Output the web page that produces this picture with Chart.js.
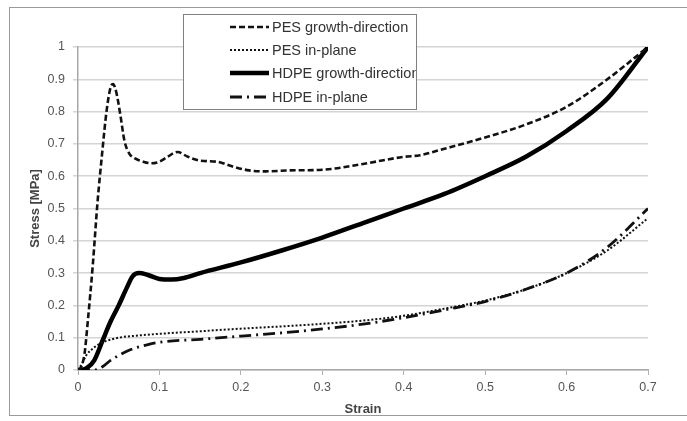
<!DOCTYPE html>
<html>
<head>
<meta charset="utf-8">
<script src="https://cdn.jsdelivr.net/npm/chart.js@4.4.1/dist/chart.umd.min.js"></script>
<style>
  html, body { margin: 0; padding: 0; background: #fff; }
  #wrap { position: relative; width: 687px; height: 421px; }
  #frame { position: absolute; left: 9px; top: 7px; width: 690px; height: 407px;
           border-left: 1px solid #9a9a9a; border-top: 1px solid #9a9a9a; border-bottom: 1px solid #9a9a9a; }
  canvas { position: absolute; left: 0; top: 0; }
</style>
</head>
<body>
<div id="wrap">
  <div id="frame"></div>
  <canvas id="stressChart" width="687" height="421"></canvas>
</div>
<script>
// Strain / stress readings for each curve
const pesGrowthX = [0, 0.004, 0.008, 0.012, 0.018, 0.024, 0.03, 0.035, 0.04, 0.043, 0.047, 0.052, 0.057, 0.063, 0.07, 0.08, 0.09, 0.1, 0.11, 0.122, 0.135, 0.15, 0.17, 0.19, 0.21, 0.23, 0.26, 0.3, 0.35, 0.4, 0.42, 0.45, 0.5, 0.55, 0.6, 0.65, 0.7];
const pesGrowthY = [0, 0.01, 0.05, 0.15, 0.32, 0.52, 0.68, 0.8, 0.875, 0.885, 0.86, 0.79, 0.71, 0.67, 0.655, 0.645, 0.64, 0.645, 0.66, 0.675, 0.66, 0.648, 0.645, 0.63, 0.618, 0.615, 0.618, 0.62, 0.638, 0.66, 0.665, 0.685, 0.72, 0.76, 0.815, 0.9, 1.0];

const pesPlaneX = [0, 0.005, 0.01, 0.02, 0.03, 0.05, 0.075, 0.1, 0.15, 0.2, 0.25, 0.3, 0.35, 0.4, 0.45, 0.5, 0.55, 0.6, 0.65, 0.7];
const pesPlaneY = [0, 0.02, 0.045, 0.07, 0.085, 0.1, 0.107, 0.112, 0.12, 0.128, 0.135, 0.143, 0.153, 0.168, 0.19, 0.215, 0.25, 0.3, 0.37, 0.47];

const hdpeGrowthX = [0, 0.01, 0.02, 0.03, 0.04, 0.05, 0.06, 0.067, 0.075, 0.085, 0.1, 0.115, 0.13, 0.15, 0.2, 0.25, 0.3, 0.35, 0.4, 0.45, 0.5, 0.55, 0.6, 0.65, 0.7];
const hdpeGrowthY = [0, 0.005, 0.03, 0.09, 0.15, 0.2, 0.255, 0.29, 0.3, 0.295, 0.282, 0.28, 0.285, 0.3, 0.333, 0.37, 0.41, 0.455, 0.5, 0.545, 0.6, 0.66, 0.74, 0.84, 1.0];

const hdpePlaneX = [0, 0.02, 0.03, 0.04, 0.05, 0.06, 0.07, 0.085, 0.1, 0.15, 0.2, 0.25, 0.3, 0.35, 0.4, 0.45, 0.5, 0.55, 0.6, 0.65, 0.7];
const hdpePlaneY = [0, 0, 0.01, 0.03, 0.045, 0.058, 0.068, 0.078, 0.086, 0.095, 0.105, 0.115, 0.127, 0.142, 0.162, 0.186, 0.212, 0.25, 0.3, 0.38, 0.5];

const seriesNames = ['PES growth-direction', 'PES in-plane', 'HDPE growth-direction', 'HDPE in-plane'];

const xTicks = [0, 0.1, 0.2, 0.3, 0.4, 0.5, 0.6, 0.7];
const xTickLabels = ['0', '0.1', '0.2', '0.3', '0.4', '0.5', '0.6', '0.7'];
const yTicks = [0, 0.1, 0.2, 0.3, 0.4, 0.5, 0.6, 0.7, 0.8, 0.9, 1];
const yTickLabels = ['0', '0.1', '0.2', '0.3', '0.4', '0.5', '0.6', '0.7', '0.8', '0.9', '1'];

function toPoints(xs, ys) {
    return xs.map((x, i) => ({ x: x, y: ys[i] }));
}

// Legend drawn as a boxed list on top of the plot
const boxLegend = {
    id: 'boxLegend',
    afterDraw(chart) {
        const ctx = chart.ctx;
        const left = 183, top = 14, width = 233, height = 95;
        ctx.save();
        ctx.fillStyle = '#ffffff';
        ctx.fillRect(left, top, width, height);
        ctx.strokeStyle = '#808080';
        ctx.lineWidth = 1;
        ctx.strokeRect(left + 0.5, top + 0.5, width, height);
        // text runs past the box edge in the original, so clip it
        ctx.beginPath();
        ctx.rect(left + 1, top + 1, width - 1, height - 1);
        ctx.clip();
        const rows = [27, 50, 73, 97];
        chart.data.datasets.forEach((ds, i) => {
            const y = rows[i];
            ctx.beginPath();
            ctx.setLineDash(ds.borderDash || []);
            ctx.lineWidth = ds.borderWidth;
            ctx.strokeStyle = ds.borderColor;
            ctx.moveTo(230, y);
            ctx.lineTo(269, y);
            ctx.stroke();
            ctx.setLineDash([]);
            ctx.fillStyle = '#333333';
            ctx.font = '14.5px "Liberation Sans", Arial, sans-serif';
            ctx.textBaseline = 'middle';
            ctx.fillText(ds.label, 272, y + 1);
        });
        ctx.restore();
    }
};

const ctx = document.getElementById('stressChart');
const chart = new Chart(ctx, {
    type: 'scatter',
    data: {
        datasets: [{
            label: seriesNames[0],
            data: toPoints(pesGrowthX, pesGrowthY),
            borderColor: '#111111',
            borderWidth: 2.6,
            borderDash: [6, 3]
        }, {
            label: seriesNames[1],
            data: toPoints(pesPlaneX, pesPlaneY),
            borderColor: '#111111',
            borderWidth: 2,
            borderDash: [2, 2]
        }, {
            label: seriesNames[2],
            data: toPoints(hdpeGrowthX, hdpeGrowthY),
            borderColor: '#000000',
            borderWidth: 4.5,
            borderDash: []
        }, {
            label: seriesNames[3],
            data: toPoints(hdpePlaneX, hdpePlaneY),
            borderColor: '#111111',
            borderWidth: 2.8,
            borderDash: [12, 5, 2, 5]
        }]
    },
    options: {
        responsive: false,
        animation: false,
        showLine: true,
        elements: {
            point: { radius: 0, hoverRadius: 0 },
            line: { cubicInterpolationMode: 'monotone', fill: false }
        },
        layout: { padding: { left: 24, right: 39, top: 47, bottom: 0 } },
        scales: {
            x: {
                type: 'linear',
                min: 0,
                max: 0.7,
                afterFit: s => { s.height = 51; },
                afterBuildTicks: s => { s.ticks = xTicks.map(v => ({ value: v })); },
                ticks: {
                    callback: (v, i) => xTickLabels[i],
                    color: '#555555',
                    font: { family: '"Liberation Sans", Arial, sans-serif', size: 12.5 },
                    padding: 5,
                    maxRotation: 0
                },
                grid: { drawOnChartArea: false, drawTicks: true, tickLength: 5, color: '#b0b0b0' },
                border: { color: '#a8a8a8', width: 1.5 },
                title: {
                    display: true,
                    text: 'Strain',
                    color: '#444444',
                    font: { family: '"Liberation Sans", Arial, sans-serif', size: 13, weight: 'bold' }
                }
            },
            y: {
                type: 'linear',
                min: 0,
                max: 1,
                afterFit: s => { s.width = 54; },
                afterBuildTicks: s => { s.ticks = yTicks.map(v => ({ value: v })); },
                ticks: {
                    callback: (v, i) => yTickLabels[i],
                    color: '#555555',
                    font: { family: '"Liberation Sans", Arial, sans-serif', size: 12.5 },
                    padding: 8
                },
                grid: { color: '#d4d4d4', lineWidth: 1.5, tickLength: 5 },
                border: { color: '#a8a8a8', width: 1.5 },
                title: {
                    display: true,
                    text: 'Stress [MPa]',
                    color: '#444444',
                    font: { family: '"Liberation Sans", Arial, sans-serif', size: 13, weight: 'bold' }
                }
            }
        },
        plugins: {
            legend: { display: false },
            tooltip: { enabled: false }
        }
    },
    plugins: [boxLegend]
});
</script>
</body>
</html>
